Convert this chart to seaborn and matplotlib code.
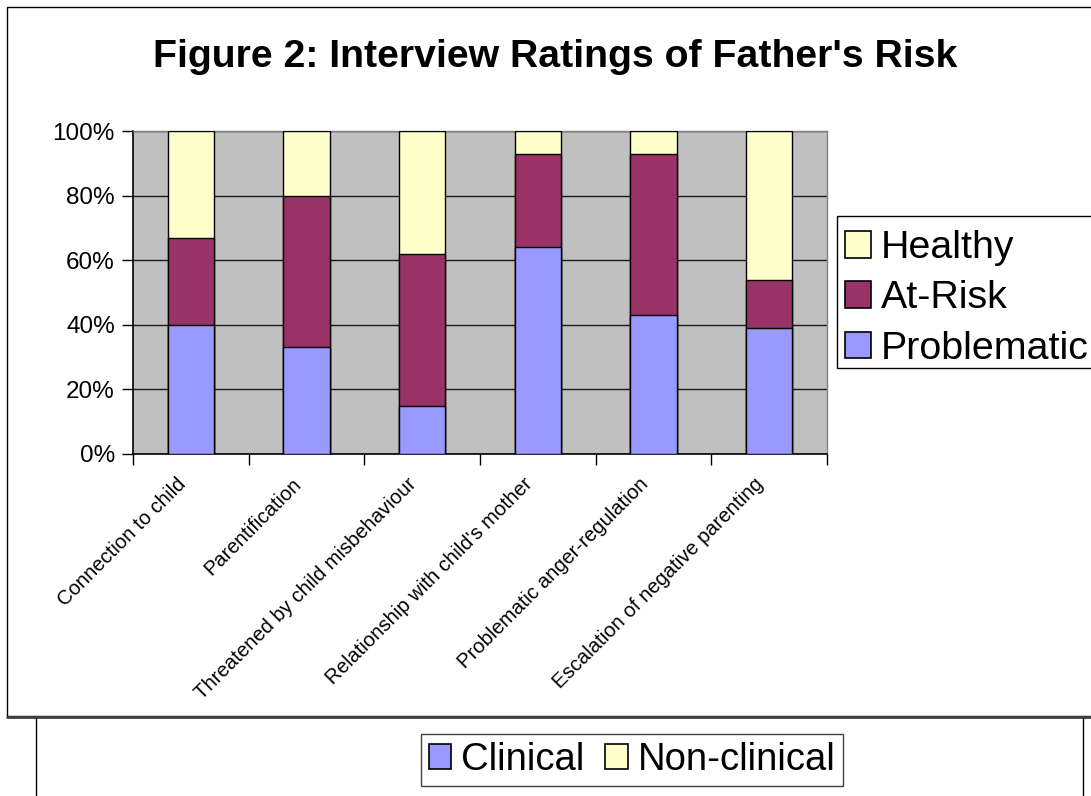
import matplotlib
matplotlib.use("Agg")
import matplotlib.pyplot as plt
import matplotlib.transforms as mtransforms
from matplotlib.patches import Patch, Rectangle
from matplotlib.lines import Line2D
import seaborn as sns
import pandas as pd
import numpy as np

categories = ["Connection to child", "Parentification", "Threatened by child misbehaviour",
              "Relationship with child's mother", "Problematic anger-regulation",
              "Escalation of negative parenting"]
problematic = [40, 33, 15, 64, 43, 39]
at_risk = [27, 47, 47, 29, 50, 15]
healthy = [33, 20, 38, 7, 7, 46]
y_ticks = [0, 20, 40, 60, 80, 100]
y_tick_labels = ["0%", "20%", "40%", "60%", "80%", "100%"]
title = "Figure 2: Interview Ratings of Father's Risk"
legend_labels = ["Healthy", "At-Risk", "Problematic"]
lower_legend_labels = ["Clinical", "Non-clinical"]

c_prob = "#9999FF"
c_risk = "#993366"
c_health = "#FFFFCC"

sns.set_theme(style="white")
plt.rcParams['font.family'] = ['Liberation Sans', 'DejaVu Sans']
for k in ["text.color", "axes.labelcolor", "xtick.color", "ytick.color"]:
    plt.rcParams[k] = "black"

W, H = 1091, 796
fig = plt.figure(figsize=(W / 100, H / 100), dpi=100)
fig.patch.set_facecolor("white")

def fx(px):
    return px / W

def fy(py):
    return 1 - py / H

ax = fig.add_axes([fx(133), fy(454), fx(827) - fx(133), fy(131) - fy(454)])
ax.set_facecolor("#C0C0C0")

df = pd.DataFrame({
    "cat": categories,
    "p": np.array(problematic, dtype=float),
    "r": np.array(problematic, dtype=float) + np.array(at_risk, dtype=float),
})
df["h"] = df["r"] + np.array(healthy, dtype=float)

for col, color in [("h", c_health), ("r", c_risk), ("p", c_prob)]:
    sns.barplot(data=df, x="cat", y=col, color=color, width=0.4, ax=ax,
                edgecolor="black", linewidth=1.0, saturation=1, zorder=3)

ax.set_xlim(-0.5, len(categories) - 0.5)
ax.set_ylim(0, 100)
ax.set_yticks(y_ticks)
ax.set_yticklabels(y_tick_labels, fontsize=17.5)
ax.yaxis.grid(True, color="#1a1a1a", linewidth=1.0, zorder=0)
ax.set_axisbelow(True)
ax.set_xlabel("")
ax.set_ylabel("")

# category boundary ticks (major) and label positions (minor)
ax.set_xticks(np.arange(-0.5, len(categories)))
ax.set_xticklabels([])
ax.set_xticks(np.arange(len(categories)), minor=True)
ax.set_xticklabels(categories, minor=True, rotation=45, ha="right",
                   rotation_mode="anchor", fontsize=14.6)
ax.tick_params(axis="x", which="major", direction="out", length=8, width=1, color="black", bottom=True)
ax.tick_params(axis="x", which="minor", length=0, pad=16)
ax.tick_params(axis="y", direction="out", length=8, width=1, color="black", left=True, pad=5)
offset = mtransforms.ScaledTranslation(-15 / 100, 2 / 100, fig.dpi_scale_trans)
for lbl in ax.get_xticklabels(minor=True):
    lbl.set_transform(lbl.get_transform() + offset)

for s in ["left", "bottom"]:
    ax.spines[s].set_color("black")
    ax.spines[s].set_linewidth(1.2)
for s in ["top", "right"]:
    ax.spines[s].set_color("#808080")
    ax.spines[s].set_linewidth(1.0)

fig.text(fx(555), fy(57), title, ha="center", va="center", fontsize=28.3,
         fontweight="bold", color="black")

# legend frame and legend
fig.add_artist(Rectangle((fx(837), fy(368)), 1.0, fy(216) - fy(368),
                         transform=fig.transFigure, facecolor="white",
                         edgecolor="black", linewidth=1.0, zorder=4))
handles = [Patch(facecolor=c_health, edgecolor="black", linewidth=1.2),
           Patch(facecolor=c_risk, edgecolor="black", linewidth=1.2),
           Patch(facecolor=c_prob, edgecolor="black", linewidth=1.2)]
leg = fig.legend(handles, legend_labels, loc="upper left",
                 bbox_to_anchor=(fx(837), fy(222)), fontsize=28.4,
                 frameon=False,
                 handlelength=0.65, handleheight=0.65, handletextpad=0.25,
                 labelspacing=0.36, borderpad=0.21, borderaxespad=0)
leg.set_zorder(5)

# outer chart border
fig.add_artist(Rectangle((fx(7), fy(716)), 1.2, fy(7) - fy(716),
                         transform=fig.transFigure, fill=False,
                         edgecolor="black", linewidth=1.0))
fig.add_artist(Line2D([fx(7), 1.0], [fy(716.5), fy(716.5)], transform=fig.transFigure,
                      color="#404040", linewidth=2.0))
# partial lower chart
fig.add_artist(Line2D([fx(36), fx(36)], [fy(718), 0], transform=fig.transFigure,
                      color="black", linewidth=1.0))
fig.add_artist(Line2D([fx(1083), fx(1083)], [fy(718), 0], transform=fig.transFigure,
                      color="black", linewidth=1.0))

lower_handles = [Patch(facecolor=c_prob, edgecolor="black", linewidth=1.2),
                 Patch(facecolor=c_health, edgecolor="black", linewidth=1.2)]
leg2 = fig.legend(lower_handles, lower_legend_labels, loc="center",
                  bbox_to_anchor=(fx(632), fy(760)), ncol=2, fontsize=27.5,
                  frameon=True, fancybox=False, framealpha=1, edgecolor="#404040",
                  handlelength=0.6, handleheight=0.6, handletextpad=0.25,
                  columnspacing=0.55, borderpad=0.2, borderaxespad=0)
leg2.get_frame().set_linewidth(1.0)

fig.savefig("out.png", dpi=100, facecolor="white")
